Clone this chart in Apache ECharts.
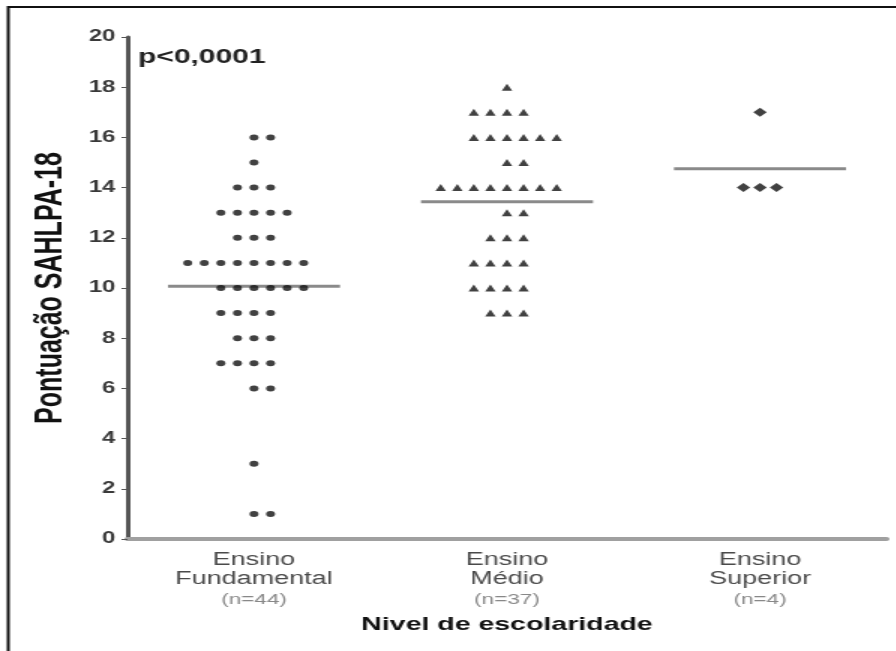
<!DOCTYPE html>
<html>
<head>
<meta charset="utf-8">
<script src="https://cdn.jsdelivr.net/npm/echarts@6/dist/echarts.min.js"></script>
<style>
  html, body { margin: 0; padding: 0; background: #fff; overflow: hidden; }
  /* the original figure is stretched horizontally, so draw narrow and stretch */
  #chart { width: 597.33px; height: 651px; transform: scaleX(1.5); transform-origin: 0 0; }
</style>
</head>
<body>
<div id="chart"></div>
<script>
    // grupos (nivel de escolaridade)
    var categories = ['Ensino Fundamental', 'Ensino Médio', 'Ensino Superior'];
    var groupSizes = ['(n=44)', '(n=37)', '(n=4)'];

    // pontuação SAHLPA-18 de cada participante
    var fundamental = [16, 16, 15, 14, 14, 14, 13, 13, 13, 13, 13, 12, 12, 12,
        11, 11, 11, 11, 11, 11, 11, 11, 10, 10, 10, 10, 10, 10, 9, 9, 9, 9,
        8, 8, 8, 7, 7, 7, 7, 6, 6, 3, 1, 1];
    var medio = [18, 17, 17, 17, 17, 16, 16, 16, 16, 16, 16, 15, 15,
        14, 14, 14, 14, 14, 14, 14, 14, 13, 13, 12, 12, 12, 11, 11, 11, 11,
        10, 10, 10, 10, 9, 9, 9];
    var superior = [17, 14, 14, 14];

    // eixo y
    var yMin = 0, yMax = 20, yStep = 2;
    var pValueText = 'p<0,0001';

    var groups = [fundamental, medio, superior];
    var symbols = ['circle', 'triangle', 'diamond'];
    var symbolSizes = [6, 7, 9];
    var STEP = 0.0655;   // distancia entre pontos da mesma linha (em categorias)
    var HALF = 0.34;     // meia largura da linha da media

    // empilha pontos iguais lado a lado (estilo dot plot)
    function swarm(values, gi) {
        var counts = {};
        values.forEach(function (v) { counts[v] = (counts[v] || 0) + 1; });
        var out = [];
        Object.keys(counts).forEach(function (k) {
            var n = counts[k];
            var start = -Math.floor(n / 2) + (n % 4 === 2 ? 1 : 0);
            for (var j = 0; j < n; j++) {
                out.push([gi + (start + j) * STEP, +k]);
            }
        });
        return out;
    }

    var means = groups.map(function (g, i) {
        var s = 0;
        g.forEach(function (v) { s += v; });
        return [i, s / g.length];
    });

    var font = 'Liberation Sans, Arial, sans-serif';
    var myChart = echarts.init(document.getElementById('chart'));

    var series = groups.map(function (g, i) {
        return {
            name: categories[i],
            type: 'scatter',
            xAxisIndex: 1,
            data: swarm(g, i),
            symbol: symbols[i],
            symbolSize: symbolSizes[i],
            itemStyle: { color: '#111' },
            silent: true,
            z: 3
        };
    });
    series.push({
        type: 'custom',
        xAxisIndex: 1,
        data: means,
        silent: true,
        z: 2,
        renderItem: function (params, api) {
            var p1 = api.coord([api.value(0) - HALF, api.value(1)]);
            var p2 = api.coord([api.value(0) + HALF, api.value(1)]);
            return {
                type: 'line',
                shape: { x1: p1[0], y1: p1[1], x2: p2[0], y2: p2[1] },
                style: { stroke: '#8a8a8a', lineWidth: 3 }
            };
        }
    });

    myChart.setOption({
        animation: false,
        textStyle: { fontFamily: font },
        grid: { left: 85, right: 6, top: 37, bottom: 112 },
        xAxis: [
            {
                type: 'category',
                data: categories,
                name: 'Nivel de escolaridade',
                nameLocation: 'middle',
                nameGap: 76,
                nameTextStyle: { fontSize: 19, fontWeight: 'bold', color: '#111', fontFamily: font },
                axisLine: { onZero: false, lineStyle: { color: '#a0a0a0', width: 4 } },
                axisTick: { alignWithLabel: true, length: 3, lineStyle: { color: '#333', width: 1 } },
                axisLabel: {
                    margin: 12,
                    interval: 0,
                    formatter: function (v, i) {
                        return v.split(' ').map(function (w) { return '{a|' + w + '}'; }).join('\n') +
                            '\n{b|' + groupSizes[i] + '}';
                    },
                    rich: {
                        a: { fontSize: 18, lineHeight: 19, color: '#4a4a4a', fontFamily: font },
                        b: { fontSize: 15, lineHeight: 22, color: '#888', fontFamily: font }
                    }
                },
                splitLine: { show: false }
            },
            { type: 'value', min: -0.5, max: 2.5, show: false }
        ],
        yAxis: {
            type: 'value',
            min: yMin,
            max: yMax,
            interval: yStep,
            name: 'Pontuação SAHLPA-18',
            nameLocation: 'middle',
            nameGap: 38,
            nameTextStyle: { fontSize: 25, fontWeight: 'bold', color: '#111', fontFamily: font },
            axisLine: { show: true, onZero: false, lineStyle: { color: '#555', width: 3 } },
            axisTick: { show: true, length: 4, lineStyle: { color: '#555', width: 1 } },
            axisLabel: { margin: 8, fontSize: 16, fontWeight: 'bold', color: '#3a3a3a', fontFamily: font },
            splitLine: { show: false }
        },
        graphic: [
            {
                type: 'rect',
                shape: { x: 5.5, y: 7, width: 700, height: 700 },
                style: { fill: 'none', stroke: '#111', lineWidth: 2 },
                silent: true
            },
            {
                type: 'text',
                left: 92,
                top: 47,
                style: { text: pValueText, fontSize: 20, fontWeight: 'bold', fill: '#222', fontFamily: font },
                silent: true
            }
        ],
        series: series
    });
</script>
</body>
</html>
